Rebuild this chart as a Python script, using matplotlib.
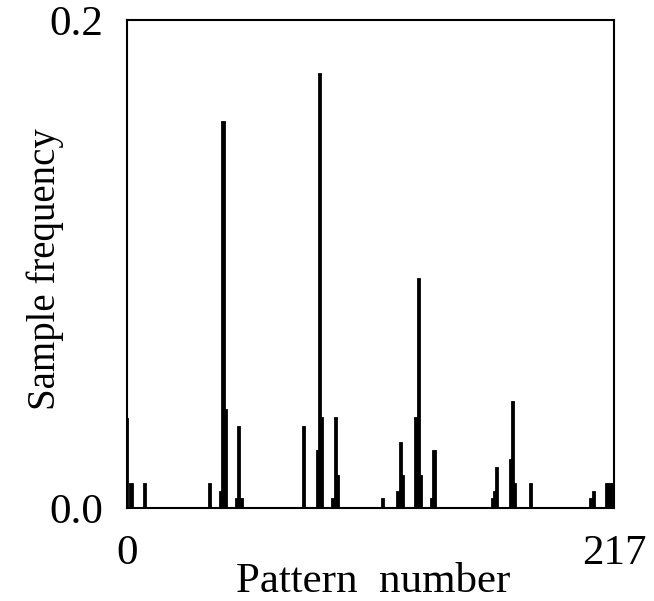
import matplotlib
matplotlib.use("Agg")
import matplotlib.pyplot as plt

patterns = [0, 2, 8, 37, 42, 43, 44, 49, 50, 51,
            79, 85, 86, 87, 92, 93, 94, 114, 121, 122, 123,
            129, 130, 131, 136, 137, 163, 164, 165, 171, 172, 173, 180,
            207, 208, 214, 215, 216]
freqs = [0.0365, 0.0098, 0.0098, 0.0098, 0.0066, 0.158, 0.040, 0.0037, 0.033, 0.0037,
         0.0333, 0.0235, 0.178, 0.037, 0.0037, 0.037, 0.013, 0.0037, 0.0067, 0.0268, 0.013,
         0.037, 0.094, 0.013, 0.0037, 0.0235, 0.0037, 0.0067, 0.0163, 0.0197, 0.0436, 0.0098, 0.0098,
         0.0037, 0.0067, 0.0098, 0.0098, 0.0098]
x_ticks = [0, 217]
y_ticks = [0.0, 0.2]
y_tick_labels = ["0.0", "0.2"]

plt.rcParams['font.family'] = ['Liberation Serif', 'DejaVu Serif']

fig = plt.figure(figsize=(6.54, 6.01), dpi=100)
ax = fig.add_axes([127/654, 93/601, 487/654, 488/601])
ax.bar(patterns, freqs, width=1.0, color='black', edgecolor='black', linewidth=1.3)
ax.set_xlim(0, 217)
ax.set_ylim(0, 0.2)
ax.set_xticks(x_ticks)
ax.set_xticklabels([str(t) for t in x_ticks], fontsize=31)
ax.set_yticks(y_ticks)
ax.set_yticklabels(y_tick_labels, fontsize=31)
ax.tick_params(length=0)
ax.tick_params(axis='y', pad=17)
ax.tick_params(axis='x', pad=19)
ax.get_xticklabels()[1].set_x(214)
for s in ax.spines.values():
    s.set_linewidth(1.5)
ax.set_xlabel("Pattern  number", fontsize=31, va='center')
ax.xaxis.set_label_coords(0.505, -0.152)
ax.set_ylabel("Sample frequency", fontsize=28, va='center')
ax.yaxis.set_label_coords(-0.168, 0.49)
fig.savefig("out.png", dpi=100)
